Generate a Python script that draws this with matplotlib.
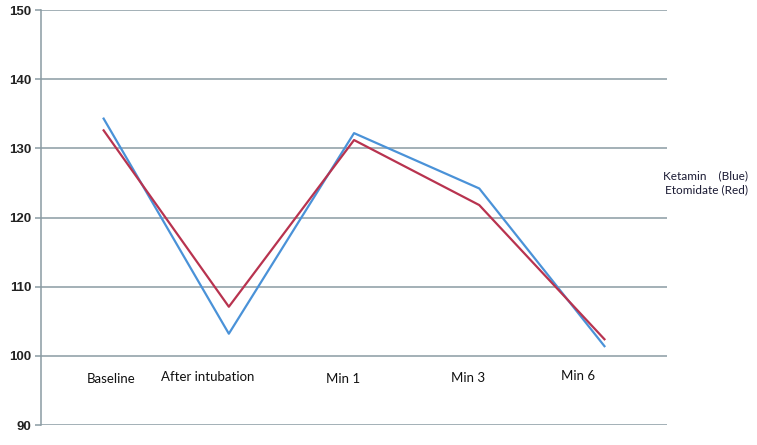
import matplotlib
matplotlib.use("Agg")
import matplotlib.pyplot as plt

categories = ["Baseline", "After intubation", "Min 1", "Min 3", "Min 6"]
ketamin = [134.3, 103.2, 132.2, 124.2, 101.4]
etomidate = [132.6, 107.1, 131.2, 121.8, 102.4]
y_ticks = [90, 100, 110, 120, 130, 140, 150]

# label placement (as in the original, labels are hand-placed near the 100 line)
label_shift = [0.06, -0.17, -0.09, -0.09, -0.21]
label_y = [96.7, 96.9, 96.7, 96.8, 97.1]

GRID = "#8a9ba3"
BLUE = "#4a92d8"
RED = "#b8334f"

fig = plt.figure(figsize=(7.57, 4.45), dpi=100)
ax = fig.add_axes([0.0542, 0.0449, 0.8270, 0.9326])

x = list(range(len(categories)))
ax.plot(x, ketamin, color=BLUE, linewidth=1.6)
ax.plot(x, etomidate, color=RED, linewidth=1.6)

ax.set_xlim(-0.5, len(categories) - 0.5)
ax.set_ylim(90, 150)
ax.set_yticks(y_ticks)
ax.set_yticklabels([str(v) for v in y_ticks], fontsize=9.5, fontweight="bold",
                   color="#222222", family="Liberation Sans")
ax.set_xticks([])
ax.yaxis.grid(True, color=GRID, linewidth=1.1)
ax.set_axisbelow(True)

for side in ["top", "right", "bottom"]:
    ax.spines[side].set_visible(False)
ax.spines["left"].set_color(GRID)
ax.spines["left"].set_linewidth(1.1)
ax.tick_params(axis="y", length=4, width=1.1, color=GRID, pad=3)

for i, name in enumerate(categories):
    ax.text(i + label_shift[i], label_y[i], name, ha="center", va="center",
            fontsize=9.5, family="Lato", color="#111111")

fig.text(0.988, 0.589, "Ketamin    (Blue)\nEtomidate (Red)", ha="right", va="center",
         fontsize=8.5, family="Lato", color="#1a1a33", linespacing=1.25)

fig.savefig("out.png", dpi=100, facecolor="white")
